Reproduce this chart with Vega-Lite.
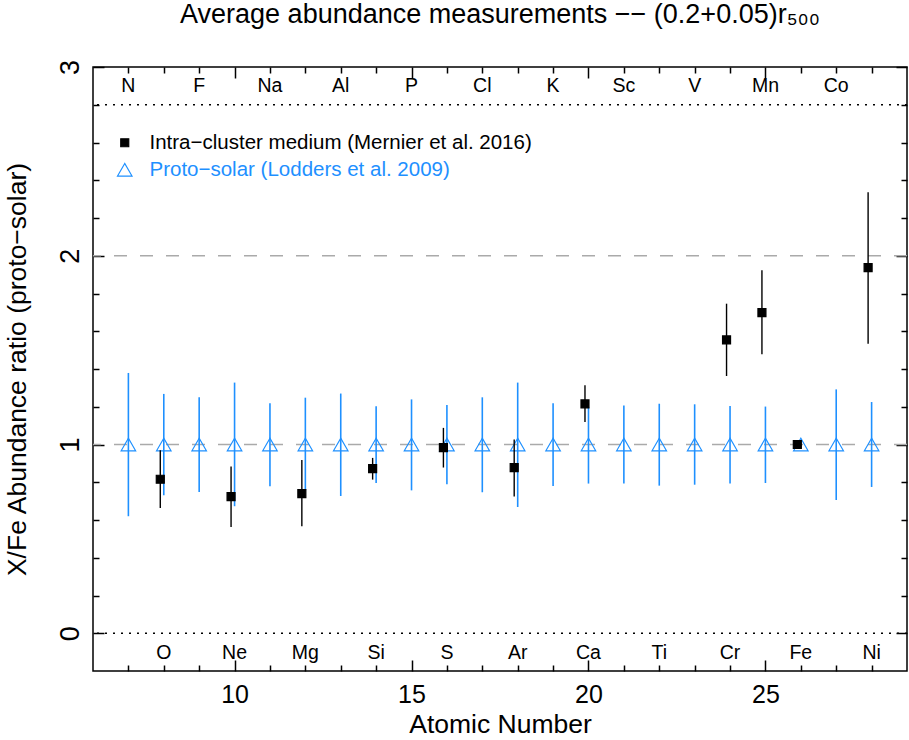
{
  "$schema": "https://vega.github.io/schema/vega-lite/v6.json",
  "autosize": {"type": "none"},
  "padding": {"left": 93, "top": 67, "right": 2, "bottom": 69},
  "width": 814,
  "height": 604,
  "background": "white",
  "title": {
    "text": "Average abundance measurements −− (0.2+0.05)r₅₀₀",
    "font": "Liberation Sans",
    "fontSize": 27,
    "fontWeight": "normal",
    "color": "black",
    "anchor": "middle",
    "baseline": "alphabetic",
    "offset": 9
  },
  "datasets": {
    "icm": [
      {"Z": 8, "el": "O", "v": 0.816, "lo": 0.664, "hi": 0.969},
      {"Z": 10, "el": "Ne", "v": 0.724, "lo": 0.563, "hi": 0.883},
      {"Z": 12, "el": "Mg", "v": 0.74, "lo": 0.567, "hi": 0.918},
      {"Z": 14, "el": "Si", "v": 0.872, "lo": 0.814, "hi": 0.929},
      {"Z": 16, "el": "S", "v": 0.983, "lo": 0.878, "hi": 1.088},
      {"Z": 18, "el": "Ar", "v": 0.878, "lo": 0.724, "hi": 1.027},
      {"Z": 20, "el": "Ca", "v": 1.215, "lo": 1.119, "hi": 1.314},
      {"Z": 24, "el": "Cr", "v": 1.554, "lo": 1.363, "hi": 1.746},
      {"Z": 25, "el": "Mn", "v": 1.699, "lo": 1.478, "hi": 1.923},
      {"Z": 26, "el": "Fe", "v": 1.0, "lo": null, "hi": null},
      {"Z": 28, "el": "Ni", "v": 1.937, "lo": 1.534, "hi": 2.337}
    ],
    "proto": [
      {"Z": 7, "v": 1, "lo": 0.62, "hi": 1.379},
      {"Z": 8, "v": 1, "lo": 0.731, "hi": 1.268},
      {"Z": 9, "v": 1, "lo": 0.749, "hi": 1.25},
      {"Z": 10, "v": 1, "lo": 0.673, "hi": 1.328},
      {"Z": 11, "v": 1, "lo": 0.779, "hi": 1.218},
      {"Z": 12, "v": 1, "lo": 0.757, "hi": 1.248},
      {"Z": 13, "v": 1, "lo": 0.727, "hi": 1.27},
      {"Z": 14, "v": 1, "lo": 0.796, "hi": 1.202},
      {"Z": 15, "v": 1, "lo": 0.757, "hi": 1.239},
      {"Z": 16, "v": 1, "lo": 0.789, "hi": 1.209},
      {"Z": 17, "v": 1, "lo": 0.747, "hi": 1.25},
      {"Z": 18, "v": 1, "lo": 0.669, "hi": 1.328},
      {"Z": 19, "v": 1, "lo": 0.78, "hi": 1.218},
      {"Z": 20, "v": 1, "lo": 0.793, "hi": 1.199},
      {"Z": 21, "v": 1, "lo": 0.793, "hi": 1.206},
      {"Z": 22, "v": 1, "lo": 0.782, "hi": 1.216},
      {"Z": 23, "v": 1, "lo": 0.787, "hi": 1.213},
      {"Z": 24, "v": 1, "lo": 0.794, "hi": 1.204},
      {"Z": 25, "v": 1, "lo": 0.796, "hi": 1.201},
      {"Z": 26, "v": 1, "lo": null, "hi": null},
      {"Z": 27, "v": 1, "lo": 0.706, "hi": 1.292},
      {"Z": 28, "v": 1, "lo": 0.775, "hi": 1.225}
    ],
    "elements": [
      {"Z": 7, "el": "N"}, {"Z": 8, "el": "O"}, {"Z": 9, "el": "F"},
      {"Z": 10, "el": "Ne"}, {"Z": 11, "el": "Na"}, {"Z": 12, "el": "Mg"},
      {"Z": 13, "el": "Al"}, {"Z": 14, "el": "Si"}, {"Z": 15, "el": "P"},
      {"Z": 16, "el": "S"}, {"Z": 17, "el": "Cl"}, {"Z": 18, "el": "Ar"},
      {"Z": 19, "el": "K"}, {"Z": 20, "el": "Ca"}, {"Z": 21, "el": "Sc"},
      {"Z": 22, "el": "Ti"}, {"Z": 23, "el": "V"}, {"Z": 24, "el": "Cr"},
      {"Z": 25, "el": "Mn"}, {"Z": 26, "el": "Fe"}, {"Z": 27, "el": "Co"},
      {"Z": 28, "el": "Ni"}
    ]
  },
  "layer": [
    {
      "data": {"values": [{}]},
      "mark": {"type": "rule", "color": "#aaaaaa", "strokeWidth": 1.5, "strokeDash": [13, 13]},
      "encoding": {"y": {"datum": 1, "type": "quantitative", "scale": {"domain": [-0.2, 3], "nice": false, "zero": false}, "axis": null}}
    },
    {
      "data": {"values": [{}]},
      "mark": {"type": "rule", "color": "#aaaaaa", "strokeWidth": 1.5, "strokeDash": [13, 13]},
      "encoding": {"y": {"datum": 2, "type": "quantitative", "scale": {"domain": [-0.2, 3], "nice": false, "zero": false}, "axis": null}}
    },
    {
      "data": {"values": [{}]},
      "mark": {"type": "rule", "color": "black", "strokeWidth": 1.5, "strokeDash": [2, 6]},
      "encoding": {"y": {"datum": 0, "type": "quantitative", "scale": {"domain": [-0.2, 3], "nice": false, "zero": false}, "axis": null}}
    },
    {
      "data": {"values": [{}]},
      "mark": {"type": "rule", "color": "black", "strokeWidth": 1.5, "strokeDash": [2, 6]},
      "encoding": {"y": {"datum": 2.8, "type": "quantitative", "scale": {"domain": [-0.2, 3], "nice": false, "zero": false}, "axis": null}}
    },
    {
      "data": {"name": "proto"},
      "transform": [{"filter": "isValid(datum.lo)"}],
      "mark": {"type": "rule", "color": "#1E90FF", "strokeWidth": 1.6},
      "encoding": {
        "x": {
          "field": "Z", "type": "quantitative",
          "scale": {"domain": [6, 29], "nice": false, "zero": false},
          "axis": {
            "orient": "bottom",
            "values": [7, 8, 9, 10, 11, 12, 13, 14, 15, 16, 17, 18, 19, 20, 21, 22, 23, 24, 25, 26, 27, 28],
            "format": "d",
            "tickSize": {"condition": {"test": "datum.value % 5 === 0", "value": -11}, "value": -6},
            "labelExpr": "datum.value % 5 === 0 ? datum.label : ''",
            "labelOverlap": false,
            "labelFontSize": 25,
            "labelPadding": 22,
            "labelBaseline": "top",
            "title": "Atomic Number",
            "titleFontSize": 26.5,
            "titleBaseline": "alphabetic",
            "titleY": 61.7
          }
        },
        "y": {
          "field": "lo", "type": "quantitative",
          "scale": {"domain": [-0.2, 3], "nice": false, "zero": false},
          "axis": {
            "orient": "left",
            "values": [0, 1, 2, 3],
            "format": "d",
            "tickSize": -11,
            "labelOverlap": false,
            "labelFlush": false,
            "labelAngle": 270,
            "labelAlign": "center",
            "labelBaseline": "alphabetic",
            "labelFontSize": 27,
            "labelPadding": 26,
            "title": "X/Fe Abundance ratio (proto−solar)",
            "titleFontSize": 26.5,
            "titleAngle": 270,
            "titleAlign": "center",
            "titleBaseline": "alphabetic",
            "titleX": -68,
            "titleY": 302
          }
        },
        "y2": {"field": "hi"}
      }
    },
    {
      "data": {"name": "proto"},
      "mark": {"type": "point", "strokeWidth": 1.2, "opacity": 1},
      "encoding": {
        "x": {
          "field": "Z", "type": "quantitative",
          "scale": {"domain": [6, 29], "nice": false, "zero": false},
          "axis": {
            "orient": "top",
            "values": [7, 8, 9, 10, 11, 12, 13, 14, 15, 16, 17, 18, 19, 20, 21, 22, 23, 24, 25, 26, 27, 28],
            "tickSize": {"condition": {"test": "datum.value % 5 === 0", "value": -11}, "value": -6},
            "labels": false,
            "title": null
          }
        },
        "y": {
          "field": "v", "type": "quantitative",
          "scale": {"domain": [-0.2, 3], "nice": false, "zero": false},
          "axis": {
            "orient": "right",
            "values": [0, 0.2, 0.4, 0.6, 0.8, 1, 1.2, 1.4, 1.6, 1.8, 2, 2.2, 2.4, 2.6, 2.8, 3],
            "tickSize": {"condition": {"test": "datum.value % 1 === 0", "value": -11}, "value": -6},
            "labels": false,
            "title": null
          }
        },
        "fill": {
          "datum": "Proto−solar (Lodders et al. 2009)", "type": "nominal",
          "scale": {"domain": ["Intra−cluster medium (Mernier et al. 2016)", "Proto−solar (Lodders et al. 2009)"], "range": ["black", "transparent"]},
          "legend": {
            "title": null,
            "orient": "none",
            "legendX": 21.5,
            "legendY": 65.5,
            "padding": 0,
            "labelFont": "Liberation Sans",
            "labelFontSize": 20.5,
            "labelOffset": 14.5,
            "labelLimit": 0,
            "rowPadding": 6,
            "symbolStrokeWidth": 1.2,
            "labelColor": {"expr": "datum.value === 'Proto−solar (Lodders et al. 2009)' ? '#1E90FF' : 'black'"}
          }
        },
        "stroke": {
          "datum": "Proto−solar (Lodders et al. 2009)", "type": "nominal",
          "scale": {"domain": ["Intra−cluster medium (Mernier et al. 2016)", "Proto−solar (Lodders et al. 2009)"], "range": ["black", "#1E90FF"]}
        },
        "shape": {
          "datum": "Proto−solar (Lodders et al. 2009)", "type": "nominal",
          "scale": {"domain": ["Intra−cluster medium (Mernier et al. 2016)", "Proto−solar (Lodders et al. 2009)"], "range": ["square", "triangle-up"]}
        },
        "size": {
          "datum": "Proto−solar (Lodders et al. 2009)", "type": "nominal",
          "scale": {"type": "point", "padding": 0, "domain": ["Intra−cluster medium (Mernier et al. 2016)", "Proto−solar (Lodders et al. 2009)"], "range": [64, 210]}
        }
      }
    },
    {
      "data": {"name": "icm"},
      "transform": [{"filter": "isValid(datum.lo)"}],
      "mark": {"type": "rule", "color": "black", "strokeWidth": 1.4, "xOffset": -3.5},
      "encoding": {
        "x": {"field": "Z", "type": "quantitative", "scale": {"domain": [6, 29], "nice": false, "zero": false}, "axis": null},
        "y": {
          "field": "lo", "type": "quantitative",
          "scale": {"domain": [-0.2, 3], "nice": false, "zero": false},
          "axis": {
            "orient": "left",
            "values": [0.2, 0.4, 0.6, 0.8, 1.2, 1.4, 1.6, 1.8, 2.2, 2.4, 2.6, 2.8],
            "tickSize": -6,
            "labels": false,
            "title": null
          }
        },
        "y2": {"field": "hi"}
      }
    },
    {
      "data": {"name": "icm"},
      "mark": {"type": "point", "strokeWidth": 1.2, "opacity": 1, "xOffset": -3.5},
      "encoding": {
        "x": {"field": "Z", "type": "quantitative", "scale": {"domain": [6, 29], "nice": false, "zero": false}, "axis": null},
        "y": {"field": "v", "type": "quantitative", "scale": {"domain": [-0.2, 3], "nice": false, "zero": false}, "axis": null},
        "fill": {
          "datum": "Intra−cluster medium (Mernier et al. 2016)", "type": "nominal",
          "scale": {"domain": ["Intra−cluster medium (Mernier et al. 2016)", "Proto−solar (Lodders et al. 2009)"], "range": ["black", "transparent"]}
        },
        "stroke": {
          "datum": "Intra−cluster medium (Mernier et al. 2016)", "type": "nominal",
          "scale": {"domain": ["Intra−cluster medium (Mernier et al. 2016)", "Proto−solar (Lodders et al. 2009)"], "range": ["black", "#1E90FF"]}
        },
        "shape": {
          "datum": "Intra−cluster medium (Mernier et al. 2016)", "type": "nominal",
          "scale": {"domain": ["Intra−cluster medium (Mernier et al. 2016)", "Proto−solar (Lodders et al. 2009)"], "range": ["square", "triangle-up"]}
        },
        "size": {
          "datum": "Intra−cluster medium (Mernier et al. 2016)", "type": "nominal",
          "scale": {"type": "point", "padding": 0, "domain": ["Intra−cluster medium (Mernier et al. 2016)", "Proto−solar (Lodders et al. 2009)"], "range": [64, 210]}
        }
      }
    },
    {
      "data": {"name": "elements"},
      "transform": [{"filter": "datum.Z % 2 === 1"}],
      "mark": {"type": "text", "font": "Liberation Sans", "fontSize": 19.5, "baseline": "alphabetic", "align": "center", "color": "black"},
      "encoding": {
        "x": {"field": "Z", "type": "quantitative", "scale": {"domain": [6, 29], "nice": false, "zero": false}, "axis": null},
        "y": {"datum": 2.867, "type": "quantitative", "scale": {"domain": [-0.2, 3], "nice": false, "zero": false}, "axis": null},
        "text": {"field": "el"}
      }
    },
    {
      "data": {"name": "elements"},
      "transform": [{"filter": "datum.Z % 2 === 0"}],
      "mark": {"type": "text", "font": "Liberation Sans", "fontSize": 19.5, "baseline": "alphabetic", "align": "center", "color": "black"},
      "encoding": {
        "x": {"field": "Z", "type": "quantitative", "scale": {"domain": [6, 29], "nice": false, "zero": false}, "axis": null},
        "y": {"datum": -0.134, "type": "quantitative", "scale": {"domain": [-0.2, 3], "nice": false, "zero": false}, "axis": null},
        "text": {"field": "el"}
      }
    }
  ],
  "resolve": {"axis": {"x": "independent", "y": "independent"}},
  "config": {
    "font": "Liberation Sans",
    "view": {"stroke": "black", "strokeWidth": 1.5},
    "axis": {
      "grid": false,
      "domain": false,
      "tickColor": "black",
      "tickWidth": 1.5,
      "labelColor": "black",
      "labelFont": "Liberation Sans",
      "titleFont": "Liberation Sans",
      "titleColor": "black",
      "titleFontWeight": "normal"
    }
  }
}
